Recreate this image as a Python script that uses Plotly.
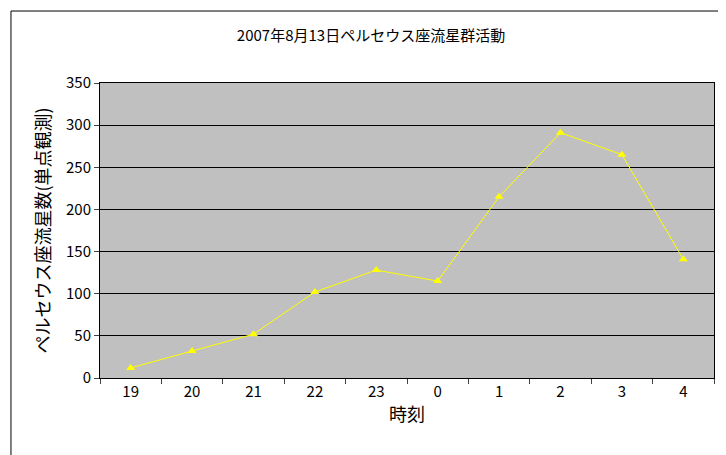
import plotly.graph_objects as go

hours = ['19', '20', '21', '22', '23', '0', '1', '2', '3', '4']
counts = [12, 32, 52, 102, 128, 115, 215, 291, 265, 141]

font = "Noto Sans CJK JP"

fig = go.Figure()
fig.add_trace(go.Scatter(
    x=hours, y=counts, mode='lines+markers',
    line=dict(color='#FFFF00', width=1),
    marker=dict(symbol='triangle-up', size=8, color='#FFFF00'),
))

fig.update_layout(
    width=726, height=455,
    margin=dict(l=92, r=20, t=75, b=85, autoexpand=False),
    paper_bgcolor='white', plot_bgcolor='#C0C0C0',
    showlegend=False,
    font=dict(family=font, size=15, color='black'),
    title=dict(text='2007年8月13日ペルセウス座流星群活動', x=0.5, xanchor='center',
               y=0.938, yanchor='middle', font=dict(size=15)),
    shapes=[dict(type='rect', xref='paper', yref='paper', x0=-0.145, x1=1.026,
                 y0=-0.278, y1=1.244, line=dict(color='black', width=1))],
)
fig.update_xaxes(type='category', tickson='boundaries', ticks='outside', ticklen=5,
                 showline=True, linecolor='black', showgrid=False, automargin=False,
                 mirror=True, title=dict(text='時刻', standoff=8), range=[-0.5, 9.5])
fig.update_yaxes(range=[0, 350], dtick=50, ticks='outside', ticklen=5, automargin=False,
                 showline=True, linecolor='black', gridcolor='black', gridwidth=1,
                 mirror=True, zeroline=False,
                 title=dict(text='ペルセウス座流星数(単点観測)', standoff=10))

fig.write_html("out.html")
